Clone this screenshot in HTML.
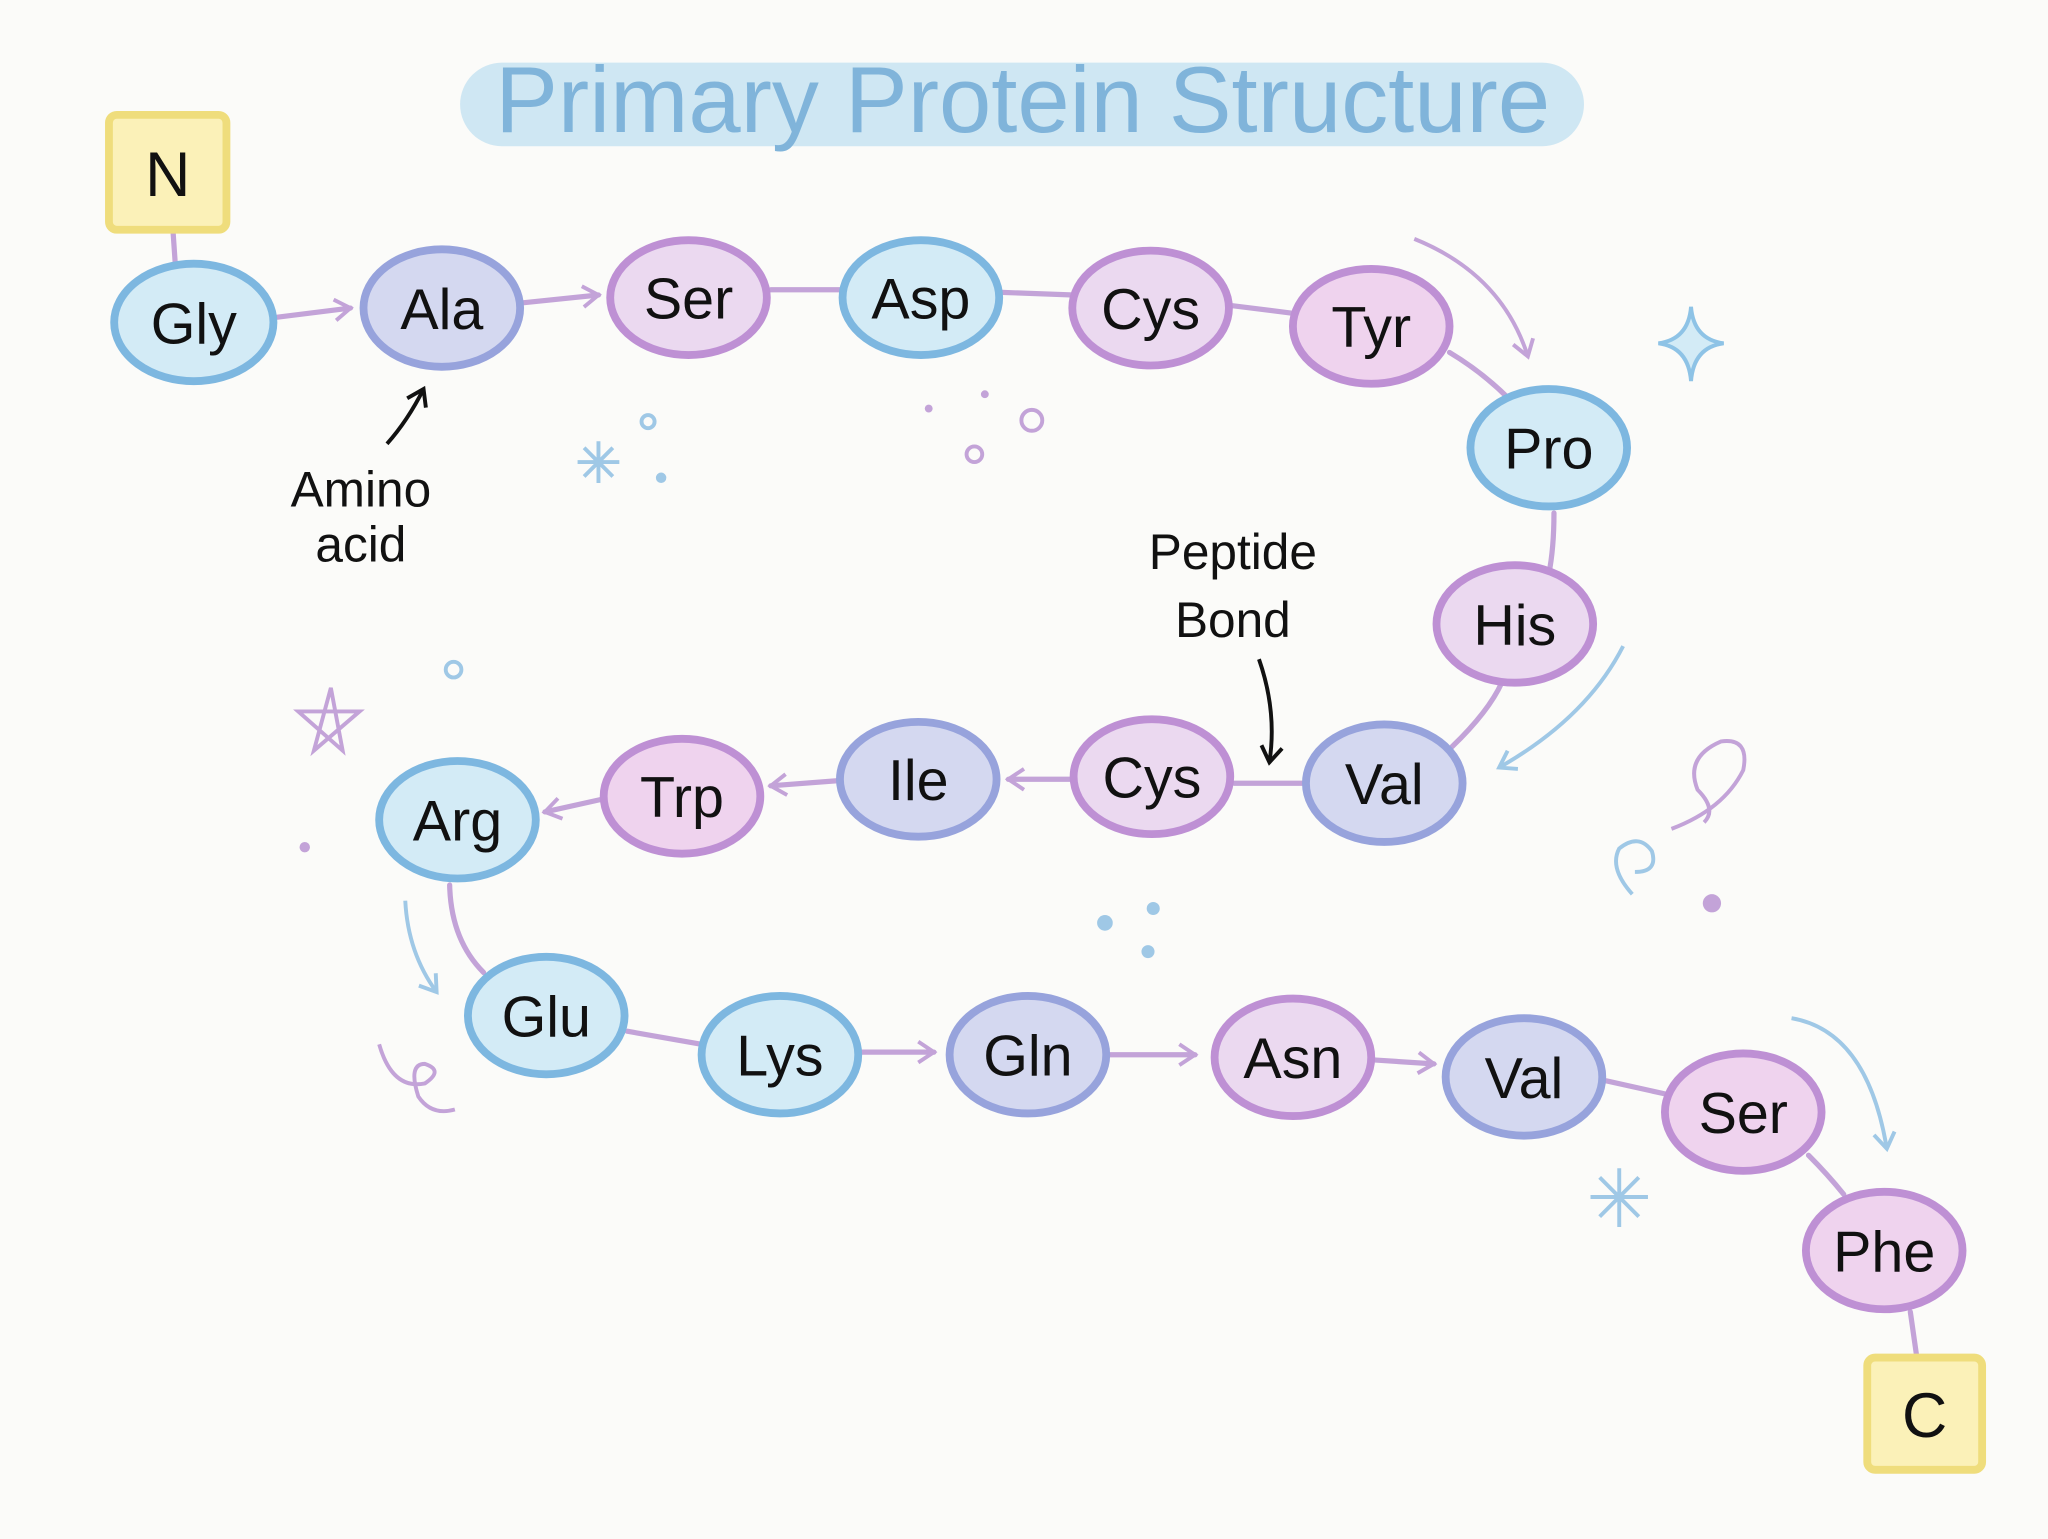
<!DOCTYPE html>
<html><head><meta charset="utf-8"><style>
html,body{margin:0;padding:0;background:#fbfbf9;}
svg{display:block;}
text{font-family:"Liberation Sans",sans-serif;}
</style></head><body>
<svg width="2048" height="1539" viewBox="0 0 1568 1179" xmlns="http://www.w3.org/2000/svg">
<defs>
<marker id="ap" markerWidth="10" markerHeight="10" refX="8" refY="5" orient="auto" markerUnits="userSpaceOnUse"><path d="M0,0 L9,5 L0,10" fill="none" stroke="#c3a3d8" stroke-width="2.5" transform="scale(1.6) translate(-3,-1.9)"/></marker>
<marker id="ab" markerWidth="20" markerHeight="20" refX="14" refY="10" orient="auto" markerUnits="userSpaceOnUse"><path d="M2,2 L14,10 L2,18" fill="none" stroke="#9fc8e6" stroke-width="3"/></marker>
<marker id="av" markerWidth="20" markerHeight="20" refX="14" refY="10" orient="auto" markerUnits="userSpaceOnUse"><path d="M2,2 L14,10 L2,18" fill="none" stroke="#c3a3d8" stroke-width="3"/></marker>
<marker id="ak" markerWidth="20" markerHeight="20" refX="14" refY="10" orient="auto" markerUnits="userSpaceOnUse"><path d="M2,2 L14,10 L2,18" fill="none" stroke="#111" stroke-width="3"/></marker>
</defs>
<rect width="1568" height="1179" fill="#fbfbf9"/>
<!-- title -->
<rect x="352" y="48" width="861" height="64" rx="32" fill="#cfe7f3"/>
<text x="783" y="101" text-anchor="middle" font-size="72" fill="#80b4da">Primary Protein Structure</text>
<!-- connectors -->
<g stroke="#c3a3d8" stroke-width="4" fill="none" stroke-linecap="round">
<line x1="132" y1="176" x2="134" y2="205"/>
<line x1="212" y1="243" x2="268" y2="236" marker-end="url(#av)"/>
<line x1="400" y1="232" x2="458" y2="226" marker-end="url(#av)"/>
<line x1="590" y1="222" x2="645" y2="222"/>
<line x1="767" y1="224" x2="822" y2="226"/>
<line x1="942" y1="234" x2="990" y2="240"/>
<path d="M1110 270 Q1135 285 1155 305"/>
<path d="M1190 393 Q1190 420 1186 440"/>
<path d="M1150 523 Q1140 545 1112 572"/>
<line x1="1000" y1="600" x2="945" y2="600"/>
<line x1="822" y1="597" x2="772" y2="597" marker-end="url(#av)"/>
<line x1="642" y1="598" x2="590" y2="602" marker-end="url(#av)"/>
<line x1="462" y1="612" x2="417" y2="622" marker-end="url(#av)"/>
<path d="M344 678 Q345 720 370 745"/>
<line x1="480" y1="790" x2="537" y2="800"/>
<line x1="659" y1="806" x2="715" y2="806" marker-end="url(#av)"/>
<line x1="850" y1="808" x2="915" y2="808" marker-end="url(#av)"/>
<line x1="1052" y1="812" x2="1098" y2="815" marker-end="url(#av)"/>
<line x1="1230" y1="828" x2="1275" y2="838"/>
<path d="M1385 885 Q1400 900 1412 915"/>
<line x1="1463" y1="1005" x2="1468" y2="1040"/>
</g>
<!-- decorative arrows -->
<path d="M1083 183 Q1150 210 1170 273" stroke="#c3a3d8" stroke-width="3" fill="none" marker-end="url(#av)"/>
<path d="M1243 495 Q1215 550 1148 588" stroke="#9fc8e6" stroke-width="3" fill="none" marker-end="url(#ab)"/>
<path d="M310 690 Q312 730 334 760" stroke="#9fc8e6" stroke-width="3" fill="none" marker-end="url(#ab)"/>
<path d="M1372 780 Q1430 790 1445 880" stroke="#9fc8e6" stroke-width="3" fill="none" marker-end="url(#ab)"/>
<!-- boxes -->
<rect x="83" y="88" width="90" height="88" rx="6" fill="#fbf1b8" stroke="#efdd7c" stroke-width="6"/>
<text x="128" y="150" text-anchor="middle" font-size="48" fill="#111">N</text>
<rect x="1430" y="1040" width="88" height="86" rx="6" fill="#fbf1b8" stroke="#efdd7c" stroke-width="6"/>
<text x="1474" y="1101" text-anchor="middle" font-size="48" fill="#111">C</text>
<!-- nodes -->
<g stroke-width="6" font-size="44" text-anchor="middle" fill="#111">
<g><ellipse cx="148" cy="247" rx="61" ry="45" fill="#d3ebf6" stroke="#7db7e0"/><text x="148" y="263">Gly</text></g>
<g><ellipse cx="338" cy="236" rx="60" ry="45" fill="#d4d8f0" stroke="#97a3dc"/><text x="338" y="252">Ala</text></g>
<g><ellipse cx="527" cy="228" rx="60" ry="44" fill="#ebd9f0" stroke="#be90d4"/><text x="527" y="244">Ser</text></g>
<g><ellipse cx="705" cy="228" rx="60" ry="44" fill="#d3ebf6" stroke="#7db7e0"/><text x="705" y="244">Asp</text></g>
<g><ellipse cx="881" cy="236" rx="60" ry="44" fill="#ebd9f0" stroke="#be90d4"/><text x="881" y="252">Cys</text></g>
<g><ellipse cx="1050" cy="250" rx="60" ry="44" fill="#efd3ee" stroke="#be90d4"/><text x="1050" y="266">Tyr</text></g>
<g><ellipse cx="1186" cy="343" rx="60" ry="45" fill="#d3ebf6" stroke="#7db7e0"/><text x="1186" y="359">Pro</text></g>
<g><ellipse cx="1160" cy="478" rx="60" ry="45" fill="#ebd9f0" stroke="#be90d4"/><text x="1160" y="494">His</text></g>
<g><ellipse cx="1060" cy="600" rx="60" ry="45" fill="#d4d8f0" stroke="#97a3dc"/><text x="1060" y="616">Val</text></g>
<g><ellipse cx="882" cy="595" rx="60" ry="44" fill="#ebd9f0" stroke="#be90d4"/><text x="882" y="611">Cys</text></g>
<g><ellipse cx="703" cy="597" rx="60" ry="44" fill="#d4d8f0" stroke="#97a3dc"/><text x="703" y="613">Ile</text></g>
<g><ellipse cx="522" cy="610" rx="60" ry="44" fill="#efd3ee" stroke="#be90d4"/><text x="522" y="626">Trp</text></g>
<g><ellipse cx="350" cy="628" rx="60" ry="45" fill="#d3ebf6" stroke="#7db7e0"/><text x="350" y="644">Arg</text></g>
<g><ellipse cx="418" cy="778" rx="60" ry="45" fill="#d3ebf6" stroke="#7db7e0"/><text x="418" y="794">Glu</text></g>
<g><ellipse cx="597" cy="808" rx="60" ry="45" fill="#d3ebf6" stroke="#7db7e0"/><text x="597" y="824">Lys</text></g>
<g><ellipse cx="787" cy="808" rx="60" ry="45" fill="#d4d8f0" stroke="#97a3dc"/><text x="787" y="824">Gln</text></g>
<g><ellipse cx="990" cy="810" rx="60" ry="45" fill="#ebd9f0" stroke="#be90d4"/><text x="990" y="826">Asn</text></g>
<g><ellipse cx="1167" cy="825" rx="60" ry="45" fill="#d4d8f0" stroke="#97a3dc"/><text x="1167" y="841">Val</text></g>
<g><ellipse cx="1335" cy="852" rx="60" ry="45" fill="#efd3ee" stroke="#be90d4"/><text x="1335" y="868">Ser</text></g>
<g><ellipse cx="1443" cy="958" rx="60" ry="45" fill="#efd3ee" stroke="#be90d4"/><text x="1443" y="974">Phe</text></g>
</g>
<!-- annotations -->
<text x="276" y="388" text-anchor="middle" font-size="38" fill="#111">Amino</text>
<text x="276" y="430" text-anchor="middle" font-size="38" fill="#111">acid</text>
<path d="M296 340 Q312 322 324 298" stroke="#111" stroke-width="3" fill="none" marker-end="url(#ak)"/>
<text x="944" y="436" text-anchor="middle" font-size="38" fill="#111">Peptide</text>
<text x="944" y="488" text-anchor="middle" font-size="38" fill="#111">Bond</text>
<path d="M964 505 Q978 545 972 584" stroke="#111" stroke-width="3" fill="none" marker-end="url(#ak)"/>
<!-- decorations -->
<g fill="none" stroke-width="3">
<path d="M1295 235 Q1297 260 1320 263 Q1297 266 1295 292 Q1293 266 1270 263 Q1293 260 1295 235Z" stroke="#8ec3e6" fill="#d3ebf6"/>
<circle cx="496" cy="323" r="5" stroke="#9fc8e6"/>
<circle cx="790" cy="322" r="8" stroke="#c3a3d8"/>
<circle cx="746" cy="348" r="6" stroke="#c3a3d8"/>
<circle cx="347" cy="513" r="6" stroke="#9fc8e6"/>
<path d="M458 338 v32 M442 354 h32 M447 343 l22 22 M469 343 l-22 22" stroke="#9fc8e6"/>
<path d="M1240 895 v45 M1218 917 h44 M1225 902 l30 30 M1255 902 l-30 30" stroke="#9fc8e6"/>
<path d="M253 527 L262 575 L228 545 L275 545 L240 575Z" stroke="#c3a3d8"/>
<path d="M1250 685 Q1232 665 1240 650 Q1255 638 1265 652 Q1270 668 1252 668" stroke="#9fc8e6"/>
<path d="M1280 635 Q1320 620 1335 590 Q1340 565 1318 568 Q1290 580 1300 605 Q1315 620 1305 630" stroke="#c3a3d8"/>
<path d="M290 800 Q300 835 325 830 Q340 820 325 815 Q312 815 320 840 Q330 855 348 850" stroke="#c3a3d8"/>
</g>
<g fill="#c3a3d8"><circle cx="711" cy="313" r="3"/><circle cx="754" cy="302" r="3"/><circle cx="1311" cy="692" r="7"/><circle cx="233" cy="649" r="4"/></g>
<g fill="#9fc8e6"><circle cx="506" cy="366" r="4"/><circle cx="846" cy="707" r="6"/><circle cx="883" cy="696" r="5"/><circle cx="879" cy="729" r="5"/></g>
</svg>
</body></html>
